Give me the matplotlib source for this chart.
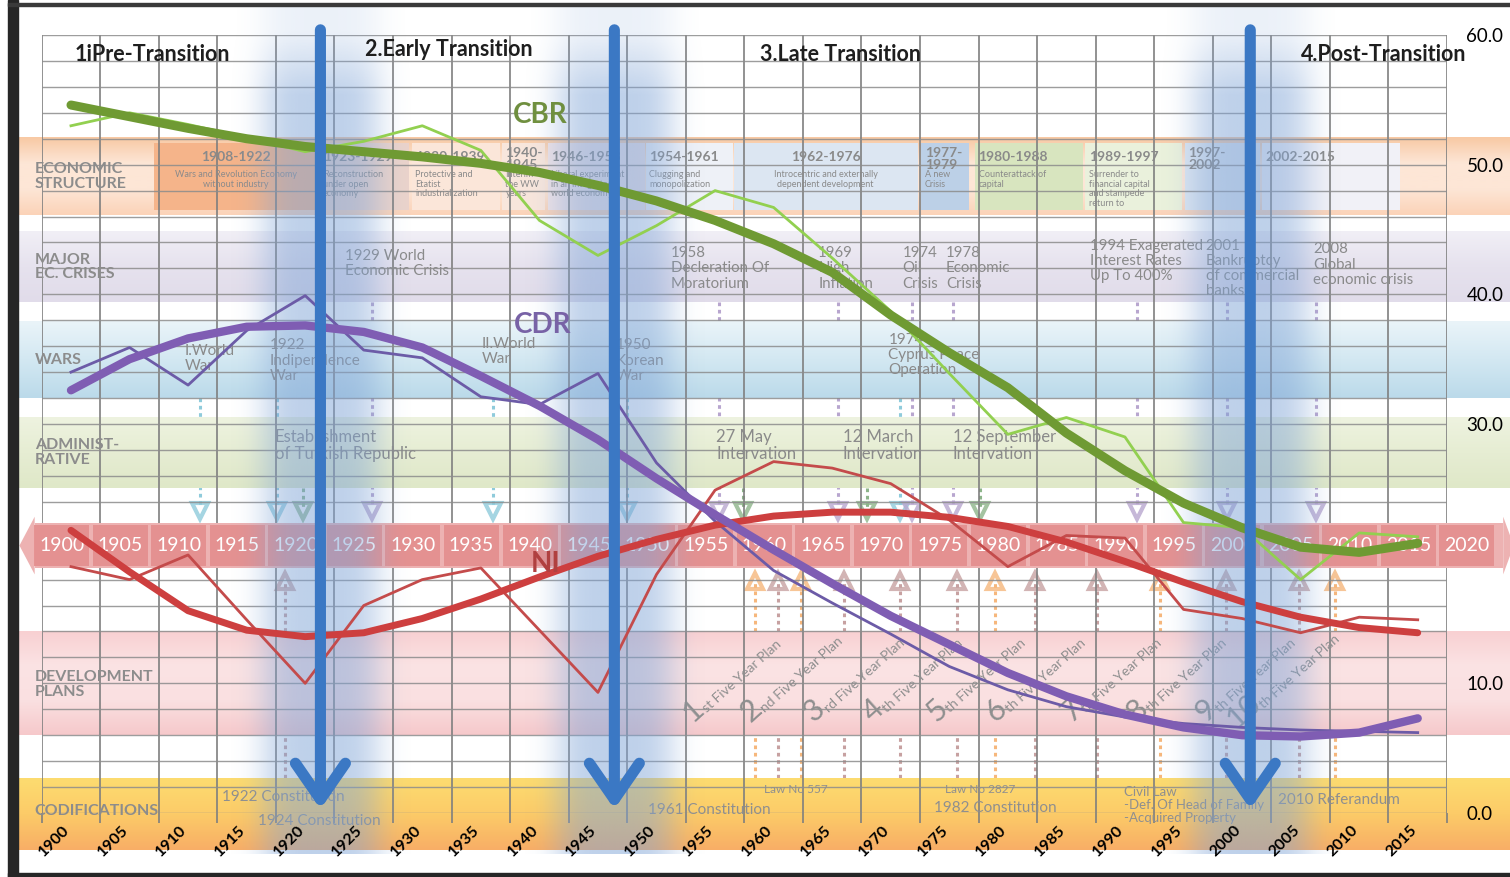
import numpy as np
import matplotlib.pyplot as plt
import matplotlib.colors as mcolors
from matplotlib.patches import Rectangle, Polygon

plt.rcParams['font.family'] = ['Lato', 'DejaVu Sans']

# ---- demographic series (per 1000) ----
years = np.arange(1900, 2016, 5)
cbr = [53.0, 54.0, 53.1, 52.1, 51.0, 51.8, 53.0, 51.1, 45.7, 43.0, 45.3, 48.0,
       46.7, 42.8, 38.7, 33.9, 29.2, 30.5, 29.0, 22.4, 22.0, 18.0, 21.6, 21.3]
cbr_trend = [54.6, 53.7, 52.8, 52.0, 51.4, 51.0, 50.6, 50.1, 49.4, 48.4, 47.2, 45.7,
             43.9, 41.7, 38.4, 35.5, 32.8, 29.3, 26.4, 23.9, 22.0, 20.5, 20.1, 20.8]
cdr = [34.0, 35.9, 33.0, 37.2, 39.9, 35.7, 35.1, 32.1, 31.5, 33.9, 27.0, 22.5,
       18.7, 16.2, 13.8, 11.3, 9.5, 8.2, 7.4, 6.9, 6.6, 6.4, 6.3, 6.2]
cdr_trend = [32.6, 35.0, 36.6, 37.5, 37.6, 37.1, 35.9, 33.7, 31.4, 28.8, 25.8, 23.0,
             20.3, 17.7, 15.2, 13.0, 10.8, 9.0, 7.6, 6.6, 6.0, 5.9, 6.2, 7.3]
ni = [19.0, 18.0, 19.9, 14.9, 10.0, 16.0, 18.0, 18.9, 14.1, 9.3, 18.4, 24.9,
      27.1, 26.6, 25.4, 22.6, 19.0, 21.4, 21.2, 15.7, 15.0, 13.9, 15.1, 14.9]
ni_trend = [21.8, 18.6, 15.6, 14.1, 13.6, 13.9, 15.0, 16.5, 18.2, 19.8, 21.1, 22.2,
            22.9, 23.2, 23.2, 22.8, 22.1, 20.9, 19.4, 17.8, 16.3, 15.1, 14.3, 13.9]

strip_years = np.arange(1900, 2021, 5)
bottom_years = np.arange(1900, 2016, 5)
transition_years = [1921.3, 1946.4, 2000.7]

phase_names = ['1iPre-Transition', '2.Early Transition', '3.Late Transition', '4.Post-Transition']
phase_x = [1900.3, 1925.1, 1958.8, 2005.0]
phase_y = [58.5, 58.9, 58.5, 58.5]

band_names = ['ECONOMIC\nSTRUCTURE', 'MAJOR\nEC. CRISES', 'WARS', 'ADMINIST-\nRATIVE',
              'DEVELOPMENT\nPLANS', 'CODIFICATIONS']
band_label_y = [49.1, 42.1, 34.9, 27.8, 9.9, 0.15]

# economic structure periods: start, end, title, description
econ_start = [1907.1, 1921.2, 1929.1, 1936.8, 1940.7, 1949.1, 1956.6, 1972.6, 1977.2, 1986.6, 1995.1, 2001.7]
econ_end = [1921.0, 1928.9, 1936.6, 1940.5, 1949.0, 1956.5, 1972.3, 1976.7, 1986.4, 1994.9, 2001.5, 2013.5]
econ_title = ['1908-1922', '1923-1929', '1930-1939', '1940-\n1945', '1946-1953', '1954-1961',
              '1962-1976', '1977-\n1979', '1980-1988', '1989-1997', '1997-\n2002', '2002-2015']
econ_desc = ['Wars and Revolution Economy\nwithout industry', 'Reconstruction\nunder open\neconomy',
             'Protective and\nEtatist\nindustrialization', 'Interim\nthe WW\nyears',
             'Liberal experiment\nin an integrated\nworld economy', 'Clugging and\nmonopolization',
             'Introcentric and externally\ndependent development', 'A new\nCrisis',
             'Counterattack of\ncapital', 'Surrender to\nfinancial capital\nand stampede\nreturn to', '', '']
econ_colors = ['#F5B48A', '#EAD3CB', '#FBE6D9', '#F8E6DC', '#EFE3E6', '#EEF1F7',
               '#DCE6F2', '#BCD0E7', '#D8E5BF', '#EAF1DC', '#DDE6F1', '#F1F1F7']

crisis_x = [1923.4, 1951.2, 1963.8, 1971.0, 1974.7, 1987.0, 1996.9, 2006.1]
crisis_y = [43.5, 43.7, 43.7, 43.7, 43.7, 44.3, 44.3, 44.0]
crisis_text = ['1929 World\nEconomic Crisis', '1958\nDecleration Of\nMoratorium', '1969\nHigh\nInflation',
               '1974\nOil\nCrisis', '1978\nEconomic\nCrisis', '1994 Exagerated\nInterest Rates\nUp To 400%',
               '2001\nBankruptcy\nof commercial\nbanks', '2008\nGlobal\neconomic crisis']

war_x = [1909.7, 1917.0, 1935.1, 1946.5, 1969.8]
war_y = [36.2, 36.6, 36.7, 36.6, 37.0]
war_text = ['I.World\nWar', '1922\nIndipendence\nWar', 'II.World\nWar', '1950\nKorean\nWar',
            '1974\nCyprus Peace\nOperation']

admin_x = [1917.4, 1955.1, 1965.9, 1975.3]
admin_text = ['Establishment\nof Turkish Republic', '27 May\nIntervation', '12 March\nIntervation',
              '12 September\nIntervation']

codif_x = [1912.9, 1916.0, 1959.2, 1949.3, 1974.6, 1973.7, 1989.9, 2003.1]
codif_y = [1.25, -0.6, 1.8, 0.2, 1.8, 0.4, 0.6, 1.0]
codif_text = ['1922 Constitution', '1924 Constitution', 'Law No 557', '1961 Constitution',
              'Law No 2827', '1982 Constitution', 'Civil Law\n-Def. Of Head of Family\n-Acquired Property',
              '2010 Referandum']
codif_size = [11, 11, 8.5, 11, 8.5, 11, 9.5, 11]

plan_x = [1953.1, 1958.1, 1963.5, 1968.5, 1973.9, 1979.0, 1985.5, 1991.0, 1996.9, 2000.1]
plan_num = ['1', '2', '3', '4', '5', '6', '7', '8', '9', '10']
plan_suffix = ['st', 'nd', 'rd', 'th', 'th', 'th', 'th', 'th', 'th', 'th']

down_arrow_x = [1911.0, 1917.6, 1919.8, 1925.7, 1936.0, 1947.5, 1955.3, 1957.4, 1965.5, 1968.0,
                1970.8, 1971.8, 1975.3, 1977.6, 1991.0, 1998.7, 2006.3]
down_arrow_kind = ['war', 'war', 'admin', 'crisis', 'war', 'war', 'crisis', 'admin', 'crisis', 'admin',
                   'war', 'crisis', 'crisis', 'admin', 'crisis', 'crisis', 'crisis']
up_arrow_x = [1918.3, 1958.4, 1960.4, 1962.3, 1966.0, 1970.8, 1975.7, 1978.9, 1982.3, 1987.6,
              1993.0, 1998.6, 2004.9, 2007.9]
up_arrow_kind = ['plan', 'law', 'plan', 'law', 'plan', 'plan', 'plan', 'law', 'plan', 'plan',
                 'law', 'plan', 'plan', 'law']

# ---- figure ----
W, H = 1510, 877
fig = plt.figure(figsize=(W / 100, H / 100), dpi=100)
ax = fig.add_axes([41.7 / W, 64 / H, 1405.3 / W, 778 / H])
XL, XR = 1897.5, 2017.5
BX0, BX1 = 1895.6, 2023.2
GREY = '#8A8A8A'


def gradient_band(y0, y1, colors, z=0.4):
    # vertical colour ramp through the given colours, top to bottom
    cols = np.array([mcolors.to_rgb(c) for c in colors])
    t = np.linspace(0, 1, 80)
    pos = np.linspace(0, 1, len(cols))
    img = np.stack([np.interp(t, pos, cols[:, i]) for i in range(3)], axis=-1)[:, None, :]
    im = ax.imshow(img, extent=[BX0, BX1, y0, y1], aspect='auto', zorder=z,
                   interpolation='bilinear')
    im.set_clip_on(False)


# horizontal bands
gradient_band(46.1, 52.1, ['#F8C9A4', '#FDE6D6', '#FDE6D6', '#FBD3B8'])
gradient_band(39.4, 44.8, ['#F1EFF6', '#E6E2EE', '#E1DCEA'])
gradient_band(32.0, 37.9, ['#EAF4F9', '#D3E8F2', '#BBDAEA'])
gradient_band(25.1, 30.5, ['#EEF3E0', '#E6EDD3', '#DFE8C8'])
gradient_band(6.0, 14.0, ['#F8D0D2', '#FBE3E4', '#FAE0E1', '#F6C9CB'])
gradient_band(-2.85, 2.7, ['#FDDC70', '#FCCB68', '#F8AE66'])

# economic structure boxes
for x0, x1, col, title, desc in zip(econ_start, econ_end, econ_colors, econ_title, econ_desc):
    ax.add_patch(Rectangle((x0, 46.5), x1 - x0, 5.2, fc=col, ec='none', zorder=0.5))
    centered = len(title) == 9 and (x1 - x0) > 12
    tx = (x0 + x1) / 2 if centered else x0 + 0.3
    ha = 'center' if centered else 'left'
    two = '\n' in title
    ax.text(tx, 51.4 if two else 50.6, title, fontsize=10, color=GREY,
            ha=ha, va='top' if two else 'center', fontweight='bold', zorder=3,
            linespacing=1.0)
    ax.text(tx, 49.6, desc, fontsize=6.5, color=GREY, ha=ha, va='top', zorder=3, linespacing=1.1)

# dotted link arrows (shafts sit under the bands, show in the gaps)
kind_col = {'war': '#8FCBDB', 'admin': '#8DB58A', 'crisis': '#B8A6CF',
            'plan': '#C7A1A1', 'law': '#F6B77C'}
for x, k in zip(down_arrow_x, down_arrow_kind):
    top = 39.4 if k == 'crisis' else (32.0 if k == 'war' else 25.1)
    ax.plot([x, x], [top, 23.6], ls=(0, (1.2, 1.2)), lw=2.2, color=kind_col[k], zorder=0.3)
    ax.plot(x, 23.3, marker='v', ms=12, mfc='none', mec=kind_col[k], mew=3, zorder=0.6, alpha=0.8)
for x, k in zip(up_arrow_x, up_arrow_kind):
    ax.plot([x, x], [2.7, 17.8], ls=(0, (1.2, 1.2)), lw=2.2, color=kind_col[k], zorder=0.3)
    ax.plot(x, 17.9, marker='^', ms=12, mfc='none', mec=kind_col[k], mew=3, zorder=0.6, alpha=0.8)

# timeline strip
SY0, SY1 = 18.9, 22.35
ax.add_patch(Rectangle((1896.9, SY0), 2022.3 - 1896.9, SY1 - SY0, fc='#EDB2B2', ec='none',
                       zorder=1.6, clip_on=False))
ax.add_patch(Polygon([(BX0, (SY0 + SY1) / 2), (1896.9, SY1 + 0.5), (1896.9, SY0 - 0.5)],
                     fc='#EDB2B2', ec='none', zorder=1.6, clip_on=False))
ax.add_patch(Polygon([(BX1, (SY0 + SY1) / 2), (2022.3, SY1 + 0.5), (2022.3, SY0 - 0.5)],
                     fc='#EDB2B2', ec='none', zorder=1.6, clip_on=False))
for y in strip_years:
    ax.add_patch(Rectangle((y - 3.15, SY0 + 0.12), 4.7, SY1 - SY0 - 0.24, fc='#E48F8F',
                           ec='none', alpha=0.92, zorder=1.7, clip_on=False))
    ax.text(y - 0.8, (SY0 + SY1) / 2, str(y), color='white', fontsize=14, ha='center',
            va='center', zorder=1.8, clip_on=False)

# band labels
for name, yy in zip(band_names, band_label_y):
    ax.text(1896.9, yy, name, fontsize=11.5, fontweight='bold', color='#8C8C8C', ha='left',
            va='center', linespacing=1.05, zorder=3, clip_on=False)

# event texts
for x, y, t in zip(crisis_x, crisis_y, crisis_text):
    ax.text(x, y, t, fontsize=10.8, color=GREY, ha='left', va='top', linespacing=1.1, zorder=3)
for x, y, t in zip(war_x, war_y, war_text):
    ax.text(x, y, t, fontsize=11, color=GREY, ha='left', va='top', linespacing=1.1, zorder=3)
for x, t in zip(admin_x, admin_text):
    ax.text(x, 29.6, t, fontsize=12, color=GREY, ha='left', va='top', linespacing=1.05, zorder=3)
for x, y, t, s in zip(codif_x, codif_y, codif_text, codif_size):
    ax.text(x, y, t, fontsize=s, color='#8F8F8F', ha='left', va='center', linespacing=1.1,
            zorder=3, clip_on=False)

# development plans, rotated
for x, n, suf in zip(plan_x, plan_num, plan_suffix):
    ax.text(x, 7.9, n, fontsize=22, color='#8F8F8F', rotation=42, ha='center', va='center',
            rotation_mode='anchor', zorder=3)
    dx = 10 + 5 * (len(n) - 1)
    ax.annotate(suf + ' Five Year Plan', xy=(x, 7.9), xytext=(dx, -2 + 3 * (len(n) - 1)),
                textcoords='offset points', fontsize=10, color='#8F8F8F', rotation=42,
                rotation_mode='anchor', ha='left', va='baseline', zorder=3)

# blue glow around the transition arrows
gxs = np.linspace(-8, 8, 200)
gys = np.linspace(62.4, -3.2, 300)
for xc in transition_years:
    a = 0.5 * np.exp(-(gxs / 5.2) ** 4)
    v = np.clip((62.4 - gys) / 7.0, 0.3, 1.0)
    rgba = np.zeros((gys.size, gxs.size, 4))
    rgba[..., :3] = mcolors.to_rgb('#7EA3D6')
    rgba[..., 3] = v[:, None] * a[None, :]
    im = ax.imshow(rgba, extent=[xc - 8, xc + 8, -3.2, 62.4], aspect='auto', zorder=3.5)
    im.set_clip_on(False)

# series
ax.plot(years, cbr, color='#92D050', lw=2.0, zorder=4)
ax.plot(years, cdr, color='#6C5BA7', lw=2.0, zorder=4)
ax.plot(years, ni, color='#C44B4B', lw=2.0, zorder=4)
ax.plot(years, cbr_trend, color='#6F9A33', lw=6.5, zorder=4.2, solid_capstyle='round',
        solid_joinstyle='round')
ax.plot(years, cdr_trend, color='#7F5DB3', lw=6.0, zorder=4.2, solid_capstyle='round',
        solid_joinstyle='round')
ax.plot(years, ni_trend, color='#CD3F3F', lw=5.0, zorder=4.1, solid_capstyle='round',
        solid_joinstyle='round')

ax.text(1940.1, 53.8, 'CBR', fontsize=20, fontweight='bold', color='#6F8F3F', ha='center',
        va='center', zorder=4.5)
ax.text(1940.3, 37.6, 'CDR', fontsize=20, fontweight='bold', color='#7862A6', ha='center',
        va='center', zorder=4.5)
ax.text(1940.5, 19.2, 'NI', fontsize=20, fontweight='bold', color='#B04040', ha='center',
        va='center', zorder=4.5)

# transition arrows
for xc in transition_years:
    ax.annotate('', xy=(xc, 0.3), xytext=(xc, 60.4), annotation_clip=False, zorder=5,
                arrowprops=dict(arrowstyle='->, head_length=1.3, head_width=0.9', lw=8,
                                color='#3B78C4', mutation_scale=20, shrinkA=0, shrinkB=0))

# phase titles
for name, x, y in zip(phase_names, phase_x, phase_y):
    ax.text(x, y, name, fontsize=15.5, fontweight='bold', color='#1E1E1E', ha='left',
            va='center', zorder=6, clip_on=False)

# axes, grid, ticks
ax.set_xlim(XL, XR)
ax.set_ylim(0, 60)
ax.set_xticks(np.arange(XL, XR + 0.1, 5))
ax.set_xticklabels([])
ax.set_yticks(np.arange(0, 61, 10))
ax.set_yticks(np.arange(0, 61, 2), minor=True)
ax.set_yticklabels([f'{v:.1f}' for v in np.arange(0, 61, 10)])
ax.yaxis.tick_right()
ax.tick_params(axis='y', which='both', length=0, pad=14, labelsize=13.5)
ax.tick_params(axis='x', length=7, color='#7F7F7F', width=1.2)
ax.grid(axis='x', color='#7F7F7F', lw=1.2)
ax.grid(axis='y', which='both', color='#8C8C8C', lw=1.0, alpha=0.85)
for s in ax.spines.values():
    s.set_visible(False)

# rotated year labels along the bottom (sit a little left of each cell)
axb = ax.twiny()
axb.set_xlim(XL + 1.4, XR + 1.4)
axb.xaxis.set_ticks_position('bottom')
axb.set_xticks(bottom_years)
axb.set_xticklabels([str(y) for y in bottom_years], rotation=45, fontsize=11.5,
                    fontweight='bold', ha='center')
axb.tick_params(axis='x', length=0, pad=7)
for s in axb.spines.values():
    s.set_visible(False)

# dark frame of the screenshot
fig.add_artist(Rectangle((8 / W, 0), 10 / W, 1, transform=fig.transFigure, color='#262626'))
fig.add_artist(Rectangle((8 / W, 1 - 6 / H), 1, 3 / H, transform=fig.transFigure, color='#3A3A3A'))
fig.add_artist(Rectangle((8 / W, 0), 1, 4 / H, transform=fig.transFigure, color='#262626'))

fig.savefig('out.png', dpi=100)
